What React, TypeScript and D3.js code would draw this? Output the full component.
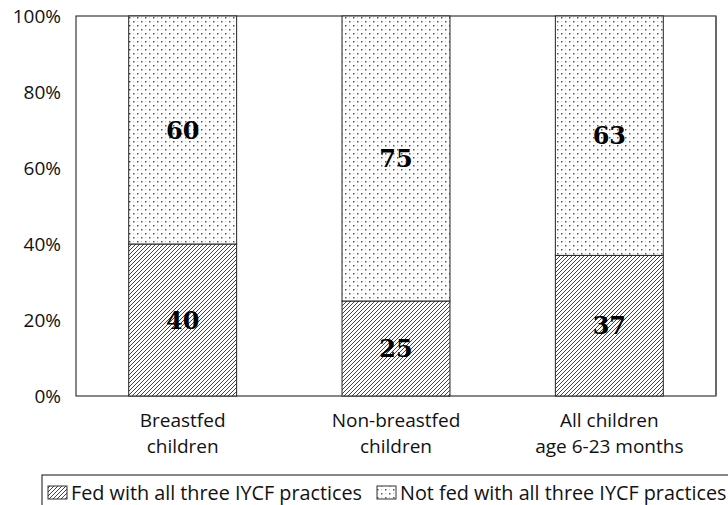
import React from "react"
import * as d3 from "d3"

const categories = [
  ["Breastfed", "children"],
  ["Non-breastfed", "children"],
  ["All children", "age 6-23 months"],
]
const fedAll = [40, 25, 37]
const notFedAll = [60, 75, 63]
const yTicks = [0, 20, 40, 60, 80, 100]
const seriesNames = ["Fed with all three IYCF practices", "Not fed with all three IYCF practices"]

const W = 728
const H = 505
const margin = { top: 16, right: 12, bottom: 109, left: 76 }
const labelFont = "'Open Sans', Lato, sans-serif"
const valueFont = "'DejaVu Serif', serif"

const App: React.FC = () => {
  const x = d3
    .scaleBand<number>()
    .domain(d3.range(categories.length))
    .range([margin.left, W - margin.right])
    .paddingInner(0.494)
    .paddingOuter(0.247)

  const y = d3
    .scaleLinear()
    .domain([0, 100])
    .range([H - margin.bottom, margin.top])

  // stack the two series per category
  const stacked = categories.map((_, i) => [
    { key: "fed", y0: 0, y1: fedAll[i], v: fedAll[i] },
    { key: "not", y0: fedAll[i], y1: fedAll[i] + notFedAll[i], v: notFedAll[i] },
  ])

  const plotW = W - margin.right - margin.left
  const plotH = H - margin.bottom - margin.top

  return (
    <svg
      width={W}
      height={H}
      style={{ position: "absolute", left: 0, top: 0, background: "#fff" }}
    >
      <defs>
        <pattern id="hatch" width="4" height="4" patternUnits="userSpaceOnUse">
          <rect width="4" height="4" fill="#fff" />
          <path d="M-1,1 l2,-2 M0,4 l4,-4 M3,5 l2,-2" stroke="#444" strokeWidth="1" />
        </pattern>
        <pattern id="dots" width="8" height="8" patternUnits="userSpaceOnUse">
          <rect width="8" height="8" fill="#fff" />
          <rect x="1" y="1" width="1.5" height="1.5" fill="#555" />
          <rect x="5" y="5" width="1.5" height="1.5" fill="#555" />
          <rect x="5" y="1.2" width="1" height="1" fill="#bbb" />
          <rect x="1.2" y="5" width="1" height="1" fill="#bbb" />
        </pattern>
      </defs>

      {/* frame */}
      <rect
        x={margin.left}
        y={margin.top}
        width={plotW}
        height={plotH}
        fill="#fff"
        stroke="#111"
        strokeWidth={1}
      />
      <line
        x1={W - margin.right}
        x2={W - margin.right}
        y1={margin.top}
        y2={H - margin.bottom}
        stroke="#6a6a6a"
        strokeWidth={2}
      />

      {/* bars */}
      {stacked.map((segs, i) =>
        segs.map((s) => (
          <g key={`${i}-${s.key}`}>
            <rect
              x={x(i)}
              y={y(s.y1)}
              width={x.bandwidth()}
              height={y(s.y0) - y(s.y1)}
              fill={s.key === "fed" ? "url(#hatch)" : "url(#dots)"}
              stroke="#222"
              strokeWidth={1}
            />
            <text
              x={(x(i) as number) + x.bandwidth() / 2}
              y={(y(s.y0) + y(s.y1)) / 2}
              dy="0.36em"
              textAnchor="middle"
              fontFamily={valueFont}
              fontWeight="bold"
              fontSize={24}
              fill="#000"
            >
              {s.v}
            </text>
          </g>
        ))
      )}

      {/* y axis labels */}
      {yTicks.map((t) => (
        <text
          key={t}
          x={61}
          y={y(t)}
          dy="0.36em"
          textAnchor="end"
          fontFamily={labelFont}
          fontSize={19}
          fill="#111"
        >
          {t}%
        </text>
      ))}

      {/* category labels */}
      {categories.map((lines, i) => (
        <text
          key={i}
          x={(x(i) as number) + x.bandwidth() / 2}
          y={427}
          textAnchor="middle"
          fontFamily={labelFont}
          fontSize={19}
          fill="#111"
        >
          {lines.map((l, j) => (
            <tspan key={j} x={(x(i) as number) + x.bandwidth() / 2} dy={j === 0 ? 0 : 26}>
              {l}
            </tspan>
          ))}
        </text>
      ))}

      {/* legend */}
      <rect x={42} y={475} width={700} height={40} fill="#fff" stroke="#111" strokeWidth={1} />
      {seriesNames.map((name, i) => {
        const lx = i === 0 ? 48 : 377
        return (
          <g key={name}>
            <rect
              x={lx}
              y={486}
              width={19}
              height={13}
              fill={i === 0 ? "url(#hatch)" : "url(#dots)"}
              stroke="#333"
              strokeWidth={1}
            />
            <text x={lx + 23} y={500} fontFamily={labelFont} fontSize={19.8} fill="#111">
              {name}
            </text>
          </g>
        )
      })}
    </svg>
  )
}

export default App
